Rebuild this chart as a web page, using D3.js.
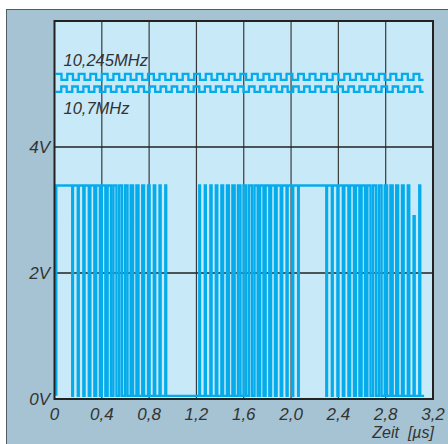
<!DOCTYPE html>
<html><head><meta charset="utf-8">
<script src="https://cdn.jsdelivr.net/npm/d3@7"></script>
<style>
html,body{margin:0;padding:0;background:#fff;}
text{font-family:"Liberation Sans",Arial,sans-serif;font-style:italic;fill:#333;}
</style></head>
<body><svg id="c" width="448" height="444"></svg>
<script>
// ---- data ----
const xTickValues = [0, 0.4, 0.8, 1.2, 1.6, 2.0, 2.4, 2.8, 3.2];
const xTickLabels = ["0", "0,4", "0,8", "1,2", "1,6", "2,0", "2,4", "2,8", "3,2"];
const yTickValues = [0, 2, 4];
const yTickLabels = ["0V", "2V", "4V"];
const xLabel = "Zeit  [\u00b5s]";
const clockNames = ["10,245MHz", "10,7MHz"];

// clock 10,245 MHz (top trace): start, level toggle times, end (µs)
const clockTopStart = 0.01, clockTopEnd = 3.12;
const clockTopLevels = [5.16, 5.065];          // [first level, second level] in V
const clockTopEdges = [0.059,0.108,0.156,0.205,0.254,0.303,0.352,0.400,0.449,0.498,0.547,0.596,0.644,0.693,0.742,0.791,0.840,0.888,0.937,0.986,1.035,1.084,1.132,1.181,1.230,1.279,1.328,1.376,1.425,1.474,1.523,1.572,1.620,1.669,1.718,1.767,1.816,1.864,1.913,1.962,2.011,2.060,2.108,2.157,2.206,2.255,2.304,2.352,2.401,2.450,2.499,2.548,2.596,2.645,2.694,2.743,2.792,2.840,2.889,2.938,2.987,3.036,3.084];

// clock 10,7 MHz (second trace)
const clockBotStart = 0.01, clockBotEnd = 3.12;
const clockBotLevels = [4.875, 4.96];
const clockBotEdges = [0.057,0.103,0.150,0.197,0.244,0.290,0.337,0.384,0.430,0.477,0.524,0.570,0.617,0.664,0.710,0.757,0.804,0.851,0.897,0.944,0.991,1.037,1.084,1.131,1.177,1.224,1.271,1.318,1.364,1.411,1.458,1.504,1.551,1.598,1.644,1.691,1.738,1.785,1.831,1.878,1.925,1.971,2.018,2.065,2.111,2.158,2.205,2.252,2.298,2.345,2.392,2.438,2.485,2.532,2.578,2.625,2.672,2.719,2.765,2.812,2.859,2.905,2.952,2.999,3.045,3.092];

// mixer output (lower trace): starts low, rises at start, then toggles
const signalStart = 0.015, signalEnd = 3.125;
const signalHigh = 3.39, signalLow = 0.05;
const signalEdges = [0.150,0.156,0.197,0.205,0.244,0.254,0.290,0.303,0.337,0.352,0.384,0.400,0.430,0.449,0.477,0.498,0.524,0.547,0.570,0.596,0.617,0.644,0.664,0.693,0.710,0.742,0.757,0.791,0.804,0.840,0.851,0.888,0.897,0.937,0.944,
1.224,1.230,1.271,1.279,1.318,1.328,1.364,1.376,1.411,1.425,1.458,1.474,1.504,1.523,1.551,1.572,1.598,1.620,1.644,1.669,1.691,1.718,1.738,1.767,1.785,1.816,1.831,1.864,1.878,1.913,1.925,1.962,1.971,2.011,2.018,2.060,2.065,
2.298,2.304,2.345,2.352,2.392,2.401,2.438,2.450,2.485,2.499,2.532,2.548,2.578,2.596,2.625,2.645,2.672,2.694,2.719,2.743,2.765,2.792,2.812,2.840,2.859,2.889,2.905,2.938,2.952,2.987,2.999,3.036,3.045,3.084,3.092];
const glitchTime = 3.036, glitchLevel = 2.9;   // one pulse that only reaches 2.9 V

// ---- chart ----
const svg = d3.select("#c");
const x = d3.scaleLinear().domain([0, 3.2]).range([54.5, 433]);
const y = d3.scaleLinear().domain([0, 6]).range([399, 21]);

svg.append("rect").attr("x", 6.5).attr("y", 9.5).attr("width", 460).attr("height", 460)
  .attr("fill", "#a5c3d3").attr("stroke", "#4e5c64").attr("stroke-width", 1);
svg.append("rect").attr("x", x(0)).attr("y", y(6)).attr("width", x(3.2) - x(0)).attr("height", y(0) - y(6))
  .attr("fill", "#c8e9f8");

const grid = svg.append("g");
grid.selectAll("line.v").data(xTickValues.slice(1, -1)).join("line")
  .attr("x1", d => x(d)).attr("x2", d => x(d)).attr("y1", y(6)).attr("y2", y(0))
  .attr("stroke", "#3a3a3a").attr("stroke-width", 1.2);
grid.selectAll("line.h").data(yTickValues.slice(1)).join("line")
  .attr("x1", x(0)).attr("x2", x(3.2)).attr("y1", d => y(d)).attr("y2", d => y(d))
  .attr("stroke", "#222").attr("stroke-width", 1.3);

function stepPoints(start, end, levels, edges) {
  const pts = [[start, levels[0]]];
  let i = 0;
  edges.forEach(e => { i = 1 - i; pts.push([e, levels[i]]); });
  pts.push([end, levels[i]]);
  return pts;
}
const line = d3.line().x(d => x(d[0])).y(d => y(d[1])).curve(d3.curveStepAfter);
const traceColor = "#05aceb";

svg.append("path").datum(stepPoints(clockTopStart, clockTopEnd, clockTopLevels, clockTopEdges))
  .attr("d", line).attr("fill", "none").attr("stroke", traceColor).attr("stroke-width", 2.3);
svg.append("path").datum(stepPoints(clockBotStart, clockBotEnd, clockBotLevels, clockBotEdges))
  .attr("d", line).attr("fill", "none").attr("stroke", traceColor).attr("stroke-width", 2.3);

// signal
const sigPts = [[signalStart, signalLow], [signalStart, signalHigh]];
let hi = true;
signalEdges.forEach(e => {
  hi = !hi;
  let v = hi ? signalHigh : signalLow;
  if (hi && e === glitchTime) v = glitchLevel;
  sigPts.push([e, v]);
});
sigPts.push([signalEnd, hi ? signalHigh : signalLow]);
svg.append("path").datum(sigPts).attr("d", line).attr("fill", "none")
  .attr("stroke", traceColor).attr("stroke-width", 2.4).attr("stroke-linejoin", "miter");

// frame
svg.append("rect").attr("x", x(0)).attr("y", y(6)).attr("width", x(3.2) - x(0)).attr("height", y(0) - y(6))
  .attr("fill", "none").attr("stroke", "#222").attr("stroke-width", 2);

// labels
svg.append("text").attr("x", x(0) + 9).attr("y", 66).attr("font-size", 16.5).text(clockNames[0]);
svg.append("text").attr("x", x(0) + 9).attr("y", 114).attr("font-size", 16.5).text(clockNames[1]);

svg.selectAll("text.yt").data(yTickValues).join("text")
  .attr("x", 50).attr("y", d => y(d)).attr("dy", "0.36em").attr("text-anchor", "end")
  .attr("font-size", 17).text((d, i) => yTickLabels[i]);
svg.selectAll("text.xt").data(xTickValues).join("text")
  .attr("x", d => x(d)).attr("y", 420).attr("text-anchor", "middle")
  .attr("font-size", 17).text((d, i) => xTickLabels[i]);
svg.append("text").attr("x", 434).attr("y", 438).attr("text-anchor", "end")
  .attr("font-size", 16).attr("xml:space", "preserve").style("white-space", "pre").text(xLabel);
</script></body></html>
